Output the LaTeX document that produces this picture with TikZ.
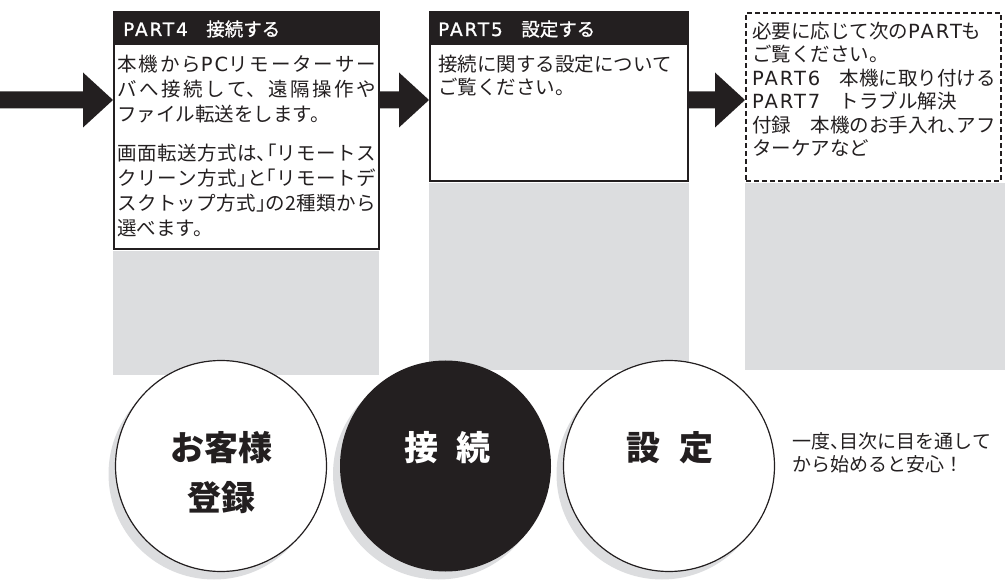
\documentclass[tikz,border=0pt]{standalone}
\usepackage{fontspec}
\setmainfont{Noto Sans CJK JP}
\newfontfamily\hw[RawFeature=+halt]{Noto Sans CJK JP}
\newfontfamily\lat[LetterSpace=10]{DejaVu Sans}
\newfontfamily\hdrfont[FakeBold=1]{Noto Sans CJK JP}
\newfontfamily\hdrlat[FakeBold=1,LetterSpace=10]{DejaVu Sans}
\usetikzlibrary{calc}
\definecolor{ink}{RGB}{35,31,32}
\definecolor{lgray}{RGB}{220,221,223}
\XeTeXlinebreaklocale "ja"
\XeTeXlinebreakskip=0pt plus 3pt
\newcommand\tstrut[1]{\rule{0pt}{#1}}
\newcommand\fatarrow[2]{\fill[ink] ($(#1)+(0,-8.5)$) -- ($(#2)+(-30,-8.5)$) -- ($(#2)+(-30,-27.5)$) -- (#2) -- ($(#2)+(-30,27.5)$) -- ($(#2)+(-30,8.5)$) -- ($(#1)+(0,8.5)$) -- cycle;}
\tikzset{
  boxline/.style={draw=ink, line width=1.6bp, inner sep=0pt, anchor=north west},
  dashbox/.style={draw=ink, line width=2bp, dash pattern=on 5bp off 3bp, inner sep=0pt, anchor=north west},
  hdrtxt/.style={inner sep=0pt, anchor=base west, text=white, font=\fontsize{18.5bp}{22bp}\selectfont\hdrfont},
  bodytxt/.style={inner sep=0pt, anchor=north west, text=ink, font=\fontsize{19.5bp}{25bp}\selectfont},
  disc/.style={circle, minimum size=211bp, inner sep=0pt},
  circtxt/.style={inner sep=0pt, anchor=north, align=center, font=\fontsize{34bp}{50bp}\selectfont\bfseries},
}
\begin{document}
\begin{tikzpicture}[x=1bp, y=-1bp]
\useasboundingbox (0,0) rectangle (1006,581);
% boxes
\node[boxline, minimum width=265bp, minimum height=237bp] (box1) at (113,11) {};
\node[boxline, minimum width=258bp, minimum height=169bp] (box2) at (429,11) {};
\node[dashbox, minimum width=255bp, minimum height=168bp] (box3) at (745,12) {};
% gray extensions
\fill[lgray] ($(box1.south west)+(0,1)$) rectangle ($(box1.south east)+(-1,125)$);
\fill[lgray] ($(box2.south west)+(0,1)$) rectangle ($(box2.south east)+(0,188)$);
\fill[lgray] ($(box3.south west)+(0,1)$) rectangle ($(box3.south east)+(3,188)$);
% headers
\fill[ink] (box1.north west) rectangle ($(box1.north east)+(0,34)$);
\fill[ink] (box2.north west) rectangle ($(box2.north east)+(0,34)$);
\node[hdrtxt] (h1) at ($(box1.north west)+(10,25)$) {{\hdrlat PART4}　接続する};
\node[hdrtxt] (h2) at ($(box2.north west)+(9,25)$) {{\hdrlat PART5}　設定する};
% body texts (strut of 24bp: first baseline = node top + 24)
\node[bodytxt, text width=259bp, align=justify] (t1a) at ($(box1.north west)+(4,36)$) {\tstrut{24bp}本機から{\lat PC}リモーターサー\linebreak バへ接続して、遠隔操作や\linebreak ファイル転送をします。};
\node[bodytxt, text width=259bp, align=justify] (t1b) at ($(box1.north west)+(4,125)$) {\tstrut{24bp}画面転送方式は{\hw 、「}リモートス\linebreak クリーン方式{\hw 」}と{\hw 「}リモートデ\linebreak スクトップ方式{\hw 」}の2種類から\linebreak 選べます。};
\node[bodytxt, text width=250bp, align=left, font=\fontsize{19.5bp}{23.5bp}\selectfont] (t2) at ($(box2.north west)+(9,36)$) {\tstrut{24bp}接続に関する設定について\\ご覧ください。};
\node[bodytxt, text width=252bp, align=left, font=\fontsize{19.5bp}{23.5bp}\selectfont] (t3) at (752,14) {\tstrut{24bp}必要に応じて次の{\lat PART}も\\ご覧ください。\\{\lat PART6}　本機に取り付ける\\{\lat PART7}　トラブル解決\\付録　本機のお手入れ{\hw 、}アフ\\ターケアなど};
% arrows
\coordinate (a0) at (0,100);
\coordinate (e1) at (box1.west |- a0);
\coordinate (s2) at (box1.east |- a0);
\coordinate (e2) at (box2.west |- a0);
\coordinate (s3) at (box2.east |- a0);
\coordinate (e3) at (box3.west |- a0);
\fatarrow{a0}{e1}
\fatarrow{s2}{e2}
\fatarrow{s3}{e3}
% circles
\coordinate (p1) at (221,466);
\coordinate (p2) at (445.5,466);
\coordinate (p3) at (669,466);
\fill[lgray] ($(p1)+(-7,8)$) circle (105.5bp);
\fill[lgray] ($(p2)+(-7,8)$) circle (105.5bp);
\fill[lgray] ($(p3)+(-7,8)$) circle (105.5bp);
\node[disc, draw=ink, line width=1.2bp, fill=white] (c1) at (p1) {};
\node[disc, fill=ink] (c2) at (p2) {};
\node[disc, draw=ink, line width=1.2bp, fill=white] (c3) at (p3) {};
\node[circtxt, text=ink] (c1t) at ($(c1.center)+(0,-46)$) {\tstrut{40bp}お客様\\登録};
\node[circtxt, text=white] (c2t) at ($(c2.center)+(2,-46)$) {\tstrut{40bp}接\hspace{0.55em}続};
\node[circtxt, text=ink] (c3t) at ($(c3.center)+(1,-46)$) {\tstrut{40bp}設\hspace{0.55em}定};
% caption
\node[bodytxt, text width=215bp, align=left, font=\fontsize{19bp}{23bp}\selectfont] (cap) at (792,424) {\tstrut{24bp}一度{\hw 、}目次に目を通して\\から始めると安心！};
\end{tikzpicture}
\end{document}
